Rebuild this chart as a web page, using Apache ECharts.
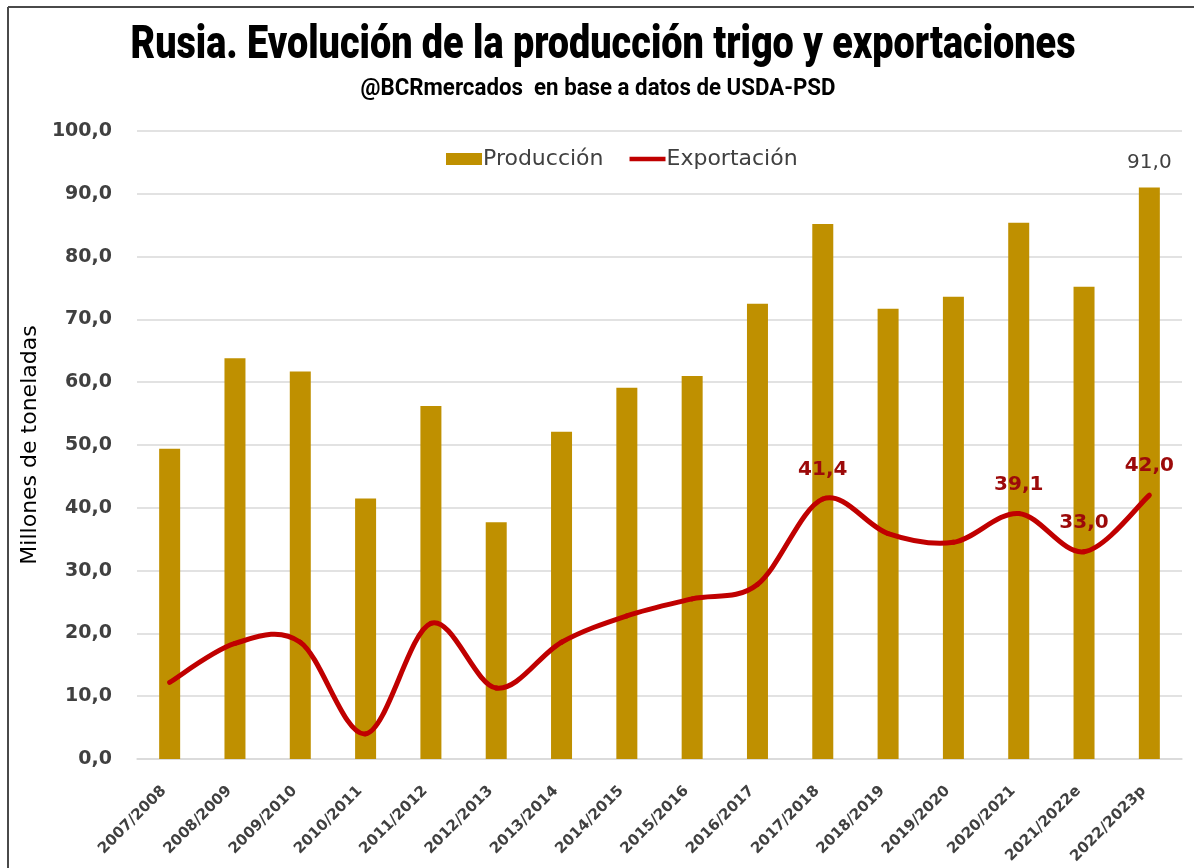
<!DOCTYPE html>
<html>
<head>
<meta charset="utf-8">
<script src="https://cdn.jsdelivr.net/npm/echarts@6/dist/echarts.min.js"></script>
<style>
html,body{margin:0;padding:0;background:#fff;}
#c{width:1194px;height:868px;}
</style>
</head>
<body>
<div id="c"></div>
<script>
const categories = ['2007/2008','2008/2009','2009/2010','2010/2011','2011/2012','2012/2013','2013/2014','2014/2015','2015/2016','2016/2017','2017/2018','2018/2019','2019/2020','2020/2021','2021/2022e','2022/2023p'];
const produccion = [49.4, 63.8, 61.7, 41.5, 56.2, 37.7, 52.1, 59.1, 61.0, 72.5, 85.2, 71.7, 73.6, 85.4, 75.2, 91.0];
const exportacion = [12.2, 18.4, 18.6, 4.0, 21.6, 11.3, 18.6, 22.8, 25.5, 27.8, 41.4, 35.9, 34.5, 39.1, 33.0, 42.0];
const labeledExport = [10, 13, 14, 15];
const labeledProd = [15];
const yTicks = [0, 100, 10];

const TITLE = 'Rusia. Evolución de la producción trigo y exportaciones';
const SUBTITLE = '@BCRmercados  en base a datos de USDA-PSD';

const fmt = v => v.toFixed(1).replace('.', ',');

// measure text to fit condensed look
const mctx = document.createElement('canvas').getContext('2d');
function fitScale(text, font, target) {
  mctx.font = font;
  return target / mctx.measureText(text).width;
}
const titleFont = '900 46px Roboto';
const subFont = 'bold 23px Roboto';
const titleScale = fitScale(TITLE, titleFont, 945);
const subScale = fitScale(SUBTITLE, subFont, 475);

const chart = echarts.init(document.getElementById('c'));

const barData = produccion.map((v, i) => labeledProd.includes(i)
  ? {value: v, label: {show: true, position: 'top', distance: 15, color: '#404040', fontSize: 20, fontFamily: 'DejaVu Sans', formatter: p => fmt(p.value)}}
  : v);
const lineData = exportacion.map((v, i) => labeledExport.includes(i)
  ? {value: v, label: {show: true, position: 'top', distance: 18, color: '#9C0A0A', fontWeight: 'bold', fontSize: 20, fontFamily: 'DejaVu Sans', formatter: p => fmt(p.value)}}
  : v);

function renderCurve(params, api) {
  if (params.dataIndex !== 0) return;
  const pts = exportacion.map((v, i) => api.coord([i, v]));
  const n = pts.length;
  const children = [];
  for (let i = 0; i < n - 1; i++) {
    const p0 = pts[Math.max(i - 1, 0)], p1 = pts[i], p2 = pts[i + 1], p3 = pts[Math.min(i + 2, n - 1)];
    children.push({
      type: 'bezierCurve',
      shape: {
        x1: p1[0], y1: p1[1], x2: p2[0], y2: p2[1],
        cpx1: p1[0] + (p2[0] - p0[0]) / 6, cpy1: p1[1] + (p2[1] - p0[1]) / 6,
        cpx2: p2[0] - (p3[0] - p1[0]) / 6, cpy2: p2[1] - (p3[1] - p1[1]) / 6
      },
      style: {stroke: '#C00000', lineWidth: 5, fill: null, lineCap: 'round', lineJoin: 'round'}
    });
  }
  return {type: 'group', children};
}

chart.setOption({
  animation: false,
  backgroundColor: '#fff',
  legend: {
    left: 441, top: 143,
    itemWidth: 36, itemHeight: 12, itemGap: 26,
    textStyle: {fontFamily: 'DejaVu Sans', fontSize: 22, color: '#404040', padding: [0,0,0,-4]},
    data: [
      {name: 'Producción', icon: 'rect'},
      {name: 'Exportación', icon: 'path://M0,0 L10,0 L10,1.3 L0,1.3 Z', itemStyle: {color: '#C00000', opacity: 1}}
    ]
  },
  grid: {left: 137, right: 12, top: 131, bottom: 109, containLabel: false, outerBoundsMode: 'none'},
  xAxis: {
    type: 'category', data: categories,
    axisLine: {lineStyle: {color: '#D9D9D9', width: 1.5}},
    axisTick: {show: false},
    axisLabel: {rotate: 45, interval: 0, margin: 24, padding: [0, 8, 0, 0], color: '#404040', fontSize: 15, fontWeight: 'bold', fontFamily: 'DejaVu Sans'}
  },
  yAxis: {
    type: 'value', min: yTicks[0], max: yTicks[1], interval: yTicks[2],
    name: 'Millones de toneladas', nameLocation: 'middle', nameGap: 96,
    nameTextStyle: {fontFamily: 'DejaVu Sans', fontSize: 22, color: '#000'},
    axisLine: {show: false}, axisTick: {show: false},
    splitLine: {lineStyle: {color: '#D9D9D9', width: 1.5}},
    axisLabel: {margin: 25, color: '#404040', fontSize: 19, fontWeight: 'bold', fontFamily: 'DejaVu Sans', formatter: v => fmt(v)}
  },
  series: [{
    name: 'Producción', type: 'bar', data: barData, barWidth: 21,
    itemStyle: {color: '#BF9000'}
  }, {
    name: 'curve', type: 'custom', data: [[0, 0]], renderItem: renderCurve,
    clip: false, silent: true, z: 3
  }, {
    name: 'Exportación', type: 'line', data: lineData,
    symbol: 'circle', symbolSize: 2, showSymbol: true,
    lineStyle: {opacity: 0}, itemStyle: {color: '#C00000'}, z: 4
  }],
  graphic: [
    {type: 'line', shape: {x1: 8, y1: 7, x2: 1194, y2: 7}, style: {stroke: '#4a4a4a', lineWidth: 2}},
    {type: 'line', shape: {x1: 8, y1: 7, x2: 8, y2: 868}, style: {stroke: '#4a4a4a', lineWidth: 2}},
    {type: 'text', x: 603, y: 46, scaleX: titleScale,
     style: {text: TITLE, x: 0, y: 0, font: titleFont, fill: '#000', align: 'center', verticalAlign: 'middle', textAlign: 'center', textVerticalAlign: 'middle'}},
    {type: 'text', x: 598, y: 89, scaleX: subScale,
     style: {text: SUBTITLE, x: 0, y: 0, font: subFont, fill: '#000', align: 'center', verticalAlign: 'middle', textAlign: 'center', textVerticalAlign: 'middle'}}
  ]
});
</script>
</body>
</html>
